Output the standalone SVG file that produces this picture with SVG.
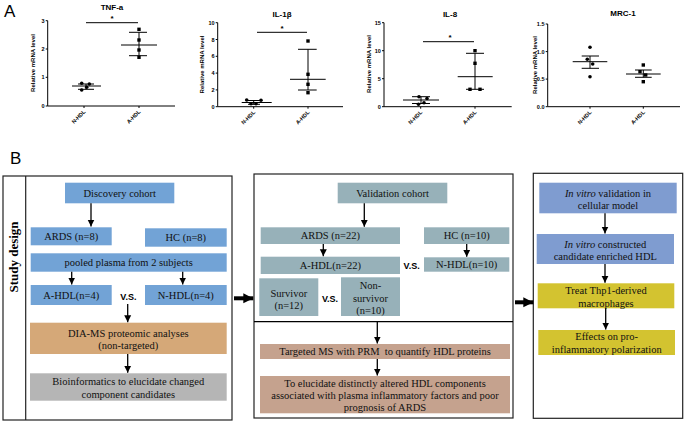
<svg xmlns="http://www.w3.org/2000/svg" width="685" height="424" viewBox="0 0 685 424">
<style>
.ax{fill:none;stroke:#000;stroke-width:1}
.eb{fill:none;stroke:#000;stroke-width:1}
.tt{font-weight:bold;font-size:8px;text-anchor:middle}
.tk{font-weight:bold;font-size:5.5px;text-anchor:end}
.yl{font-weight:bold;font-size:6px;text-anchor:middle}
.xl{font-weight:bold;font-size:5.5px;text-anchor:end}
.st{font-weight:bold;font-size:8px;text-anchor:middle}
.pl{font-size:17px}
.bt{font-size:10.5px;text-anchor:middle;fill:#111;white-space:pre}
.vs{font-weight:bold;font-size:9px;text-anchor:middle}
.frame{fill:#fff;stroke:#222;stroke-width:1.2}
.c1{fill:#72a3d6}.c2{fill:#97b1b9}.c3{fill:#d5a878}.c4{fill:#b5b5b5}.c5{fill:#c5a28e}.c6{fill:#7f9cd0}.c7{fill:#d3c330}
.arr{stroke:#000;stroke-width:1.3;fill:none}
.big{stroke:#000;stroke-width:4;fill:none}
</style>
<defs>
<marker id="ah" viewBox="0 0 10 10" refX="10" refY="5" markerWidth="7" markerHeight="8" markerUnits="userSpaceOnUse" orient="auto"><path d="M0,0 L10,5 L0,10 z" fill="#000"/></marker>
<marker id="bh" viewBox="0 0 10 10" refX="10" refY="5" markerWidth="10" markerHeight="12" markerUnits="userSpaceOnUse" orient="auto"><path d="M0,0 L10,5 L0,10 z" fill="#000"/></marker>
</defs>
<rect width="685" height="424" fill="#fff"/>
<g font-family="Liberation Sans, Arial, sans-serif">
<text class="pl" x="4" y="17">A</text>
<text class="pl" x="10" y="164">B</text>

<!-- Chart 1 TNF-a -->
<g id="chart-tnfa">
<text class="tt" x="112" y="10">TNF-a</text>
<path class="ax" d="M47.7,20.7 V106 H175 M45.7,20.7 H47.7 M45.7,49 H47.7 M45.7,77.3 H47.7 M45.7,106 H47.7 M84,106 V108 M139,106 V108"/>
<text class="tk" x="44.5" y="22.7">3</text><text class="tk" x="44.5" y="51">2</text><text class="tk" x="44.5" y="79.3">1</text><text class="tk" x="44.5" y="108">0</text>
<text class="yl" transform="translate(35,63) rotate(-90)">Relative mRNA level</text>
<text class="xl" transform="translate(86,112) rotate(-45)">N-HDL</text>
<text class="xl" transform="translate(141,112) rotate(-45)">A-HDL</text>
<path class="eb" d="M86,22.7 H138"/><text class="st" x="112" y="21">*</text>
<path class="eb" d="M72,86 H101 M78,84 H94 M78,89.3 H94 M86,84 V89.3"/>
<circle cx="81.7" cy="83.3" r="1.8"/><circle cx="89.3" cy="84" r="1.8"/><circle cx="86.7" cy="87.3" r="1.8"/><circle cx="81.7" cy="90" r="1.8"/>
<path class="eb" d="M121,45 H157 M129,32.3 H147 M129,55.7 H147 M139,32.3 V55.7"/>
<rect x="137.3" y="27.6" width="3.4" height="3.4"/><rect x="137.3" y="38.3" width="3.4" height="3.4"/><rect x="137.3" y="48.3" width="3.4" height="3.4"/><rect x="137.3" y="55.6" width="3.4" height="3.4"/>
</g>

<!-- Chart 2 IL-1b -->
<g id="chart-il1b">
<text class="tt" x="282" y="17">IL-1β</text>
<path class="ax" d="M217.7,22.7 V106.7 H343 M215.7,22.7 H217.7 M215.7,39.5 H217.7 M215.7,56.3 H217.7 M215.7,73.1 H217.7 M215.7,89.9 H217.7 M215.7,106.7 H217.7 M253.7,106.7 V108.7 M308,106.7 V108.7"/>
<text class="tk" x="214.5" y="24.7">10</text><text class="tk" x="214.5" y="41.5">8</text><text class="tk" x="214.5" y="58.3">6</text><text class="tk" x="214.5" y="75.1">4</text><text class="tk" x="214.5" y="91.9">2</text><text class="tk" x="214.5" y="108.7">0</text>
<text class="yl" transform="translate(203.7,64.5) rotate(-90)">Relative mRNA level</text>
<text class="xl" transform="translate(255.7,112.7) rotate(-45)">N-HDL</text>
<text class="xl" transform="translate(310,112.7) rotate(-45)">A-HDL</text>
<path class="eb" d="M257,32.3 H307"/><text class="st" x="282" y="30.5">*</text>
<path class="eb" d="M241.7,102.5 H271.7 M248,100.5 H260 M248,104.3 H260 M253.7,100.5 V104.3"/>
<circle cx="246.7" cy="100" r="1.8"/><circle cx="251" cy="103.7" r="1.8"/><circle cx="256" cy="103.7" r="1.8"/><circle cx="261" cy="100.3" r="1.8"/>
<path class="eb" d="M290,79.3 H325.7 M298,49.3 H316.7 M298,90 H316.7 M308,49.3 V90"/>
<rect x="306.3" y="39.3" width="3.4" height="3.4"/><rect x="306.3" y="72.6" width="3.4" height="3.4"/><rect x="306.3" y="82.6" width="3.4" height="3.4"/><rect x="306.3" y="91" width="3.4" height="3.4"/>
</g>

<!-- Chart 3 IL-8 -->
<g id="chart-il8">
<text class="tt" x="450" y="17">IL-8</text>
<path class="ax" d="M384,22.7 V106.7 H511.7 M382,22.7 H384 M382,50.7 H384 M382,78.7 H384 M382,106.7 H384 M420.7,106.7 V108.7 M475,106.7 V108.7"/>
<text class="tk" x="380.8" y="24.7">15</text><text class="tk" x="380.8" y="52.7">10</text><text class="tk" x="380.8" y="80.7">5</text><text class="tk" x="380.8" y="108.7">0</text>
<text class="yl" transform="translate(371.3,64) rotate(-90)">Relative mRNA level</text>
<text class="xl" transform="translate(422.7,112.7) rotate(-45)">N-HDL</text>
<text class="xl" transform="translate(477,112.7) rotate(-45)">A-HDL</text>
<path class="eb" d="M423,41.7 H474"/><text class="st" x="450" y="40">*</text>
<path class="eb" d="M403,100 H439 M412,96.7 H430 M412,103.5 H430 M421,96.7 V103.5"/>
<circle cx="419" cy="96.7" r="1.8"/><circle cx="427" cy="98.5" r="1.8"/><circle cx="418.5" cy="104.3" r="1.8"/><circle cx="424" cy="102.7" r="1.8"/>
<path class="eb" d="M457.7,76.7 H492.7 M466,53.3 H484 M466,89.3 H484 M475,53.3 V89.3"/>
<rect x="473.3" y="49" width="3.4" height="3.4"/><rect x="473.3" y="61.6" width="3.4" height="3.4"/><rect x="468.3" y="87.6" width="3.4" height="3.4"/><rect x="478.3" y="87.6" width="3.4" height="3.4"/>
</g>

<!-- Chart 4 MRC-1 -->
<g id="chart-mrc1">
<text class="tt" x="623" y="16">MRC-1</text>
<path class="ax" d="M547.7,24 V106.7 H680 M545.7,24 H547.7 M545.7,51.6 H547.7 M545.7,79.1 H547.7 M545.7,106.7 H547.7 M590,106.7 V108.7 M643.3,106.7 V108.7"/>
<text class="tk" x="544.5" y="26">1.5</text><text class="tk" x="544.5" y="53.6">1.0</text><text class="tk" x="544.5" y="81.1">0.5</text><text class="tk" x="544.5" y="108.7">0.0</text>
<text class="yl" transform="translate(537,65) rotate(-90)">Relative mRNA level</text>
<text class="xl" transform="translate(592,112.7) rotate(-45)">N-HDL</text>
<text class="xl" transform="translate(645.3,112.7) rotate(-45)">A-HDL</text>
<path class="eb" d="M572.7,61.7 H607.3 M581.7,56 H599 M581.7,68.3 H599 M590,56 V68.3"/>
<circle cx="590" cy="47.3" r="1.8"/><circle cx="587.3" cy="59.3" r="1.8"/><circle cx="592.7" cy="64" r="1.8"/><circle cx="590" cy="76.7" r="1.8"/>
<path class="eb" d="M626,74 H660.7 M635,70 H651.7 M635,77.3 H651.7 M643.3,70 V77.3"/>
<rect x="641.6" y="63.3" width="3.4" height="3.4"/><rect x="638.3" y="70" width="3.4" height="3.4"/><rect x="644" y="73.3" width="3.4" height="3.4"/><rect x="641.6" y="80" width="3.4" height="3.4"/>
</g>
</g>

<!-- Panel B frames -->
<g id="frame-discovery">
<rect class="frame" x="3" y="176" width="229" height="244"/>
<line x1="25.7" y1="176" x2="25.7" y2="420" stroke="#222" stroke-width="1.2"/>
<text transform="translate(18,257) rotate(-90)" font-family="Liberation Serif, Times New Roman, serif" font-weight="bold" font-size="13" text-anchor="middle">Study design</text>
</g>
<g id="frame-validation"><rect class="frame" x="254" y="174" width="259" height="244"/>
<line x1="254" y1="321.7" x2="513" y2="321.7" stroke="#000" stroke-width="1.3"/></g>
<g id="frame-invitro"><rect class="frame" x="533.3" y="173.3" width="149.4" height="245"/></g>

<g font-family="Liberation Serif, Times New Roman, serif">
<!-- Discovery nodes -->
<g id="n-discovery"><rect class="c1" x="65" y="182.7" width="109.3" height="20.6"/><text class="bt" x="119.7" y="196.6">Discovery cohort</text></g>
<g id="n-ards8"><rect class="c1" x="30.7" y="227.3" width="81" height="18"/><text class="bt" x="71.2" y="240">ARDS (n=8)</text></g>
<g id="n-hc8"><rect class="c1" x="145" y="228.3" width="81.7" height="18.4"/><text class="bt" x="185.8" y="241.2">HC (n=8)</text></g>
<g id="n-pooled"><rect class="c1" x="30.7" y="253.3" width="196" height="18.4"/><text class="bt" x="128.7" y="266.2">pooled plasma from 2 subjects</text></g>
<g id="n-ahdl4"><rect class="c1" x="30.7" y="285" width="81" height="20"/><text class="bt" x="71.2" y="298.7">A-HDL(n=4)</text></g>
<g id="n-nhdl4"><rect class="c1" x="145" y="285" width="81.7" height="20"/><text class="bt" x="185.8" y="298.7">N-HDL(n=4)</text></g>
<g id="n-dia"><rect class="c3" x="30" y="322.7" width="196.7" height="31.3"/><text class="bt" x="128.3" y="336.5">DIA-MS proteomic analyses</text><text class="bt" x="128.3" y="349">(non-targeted)</text></g>
<g id="n-bio"><rect class="c4" x="30" y="373.3" width="196.7" height="27.4"/><text class="bt" x="128.3" y="384.5">Bioinformatics to elucidate changed</text><text class="bt" x="128.3" y="398">component candidates</text></g>

<!-- Validation nodes -->
<g id="n-validation"><rect class="c2" x="337.7" y="182.7" width="109.6" height="20.6"/><text class="bt" x="392.5" y="196.6">Validation cohort</text></g>
<g id="n-ards22"><rect class="c2" x="260.7" y="227.3" width="139.3" height="16.7"/><text class="bt" x="330.3" y="239.4">ARDS (n=22)</text></g>
<g id="n-hc10"><rect class="c2" x="424" y="227.3" width="85.3" height="16.7"/><text class="bt" x="466.7" y="239.4">HC (n=10)</text></g>
<g id="n-ahdl22"><rect class="c2" x="260.7" y="256.7" width="139.3" height="17.3"/><text class="bt" x="330.3" y="269">A-HDL(n=22)</text></g>
<g id="n-nhdl10"><rect class="c2" x="424" y="257.3" width="85.3" height="14.4"/><text class="bt" x="466.7" y="268.2">N-HDL(n=10)</text></g>
<g id="n-survivor"><rect class="c2" x="259.3" y="278.3" width="59" height="37.7"/><text class="bt" x="288.8" y="296.5">Survivor</text><text class="bt" x="288.8" y="308.5">(n=12)</text></g>
<g id="n-nonsurvivor"><rect class="c2" x="341" y="277.3" width="59" height="38.7"/><text class="bt" x="370.5" y="289">Non-</text><text class="bt" x="370.5" y="301.5">survivor</text><text class="bt" x="370.5" y="314">(n=10)</text></g>
<g id="n-targeted"><rect class="c5" x="260" y="344" width="250" height="15"/><text class="bt" x="385" y="355" xml:space="preserve">Targeted MS with PRM  to quantify HDL proteins</text></g>
<g id="n-elucidate"><rect class="c5" x="260" y="376" width="250" height="37.3"/><text class="bt" x="385" y="386.8">To elucidate distinctly altered HDL components</text><text class="bt" x="385" y="399.3">associated with plasma inflammatory factors and poor</text><text class="bt" x="385" y="411">prognosis of ARDS</text></g>

<!-- In vitro nodes -->
<g id="n-invitro1"><rect class="c6" x="539.3" y="182.7" width="137.4" height="30.6"/><text class="bt" x="608" y="196.8"><tspan font-style="italic">In vitro</tspan> validation in</text><text class="bt" x="608" y="208.5">cellular model</text></g>
<g id="n-invitro2"><rect class="c6" x="536.7" y="234" width="137.3" height="30"/><text class="bt" x="605.3" y="247.5"><tspan font-style="italic">In vitro</tspan> constructed</text><text class="bt" x="605.3" y="259.5">candidate enriched HDL</text></g>
<g id="n-treat"><rect class="c7" x="537.7" y="283.3" width="136.6" height="25"/><text class="bt" x="606" y="294.2">Treat Thp1-derived</text><text class="bt" x="606" y="306.5">macrophages</text></g>
<g id="n-effects"><rect class="c7" x="538.3" y="330" width="136.7" height="25"/><text class="bt" x="606.7" y="340.2">Effects on pro-</text><text class="bt" x="606.7" y="353.2">inflammatory polarization</text></g>
</g>

<g font-family="Liberation Sans, Arial, sans-serif">
<text class="vs" x="128.3" y="300">V.S.</text>
<text class="vs" x="411.7" y="269.3">V.S.</text>
<text class="vs" x="330" y="301.5">V.S.</text>
</g>

<!-- Connectors -->
<g id="connectors">
<line class="arr" x1="91" y1="203.3" x2="91" y2="226.5" marker-end="url(#ah)"/>
<line class="arr" x1="71.7" y1="271.7" x2="71.7" y2="284.5" marker-end="url(#ah)"/>
<line class="arr" x1="182.7" y1="271.7" x2="182.7" y2="284.5" marker-end="url(#ah)"/>
<line class="arr" x1="127.7" y1="304" x2="127.7" y2="322.2" marker-end="url(#ah)"/>
<line class="arr" x1="127.7" y1="354" x2="127.7" y2="372.8" marker-end="url(#ah)"/>
<line class="arr" x1="364.3" y1="203.3" x2="364.3" y2="226.8" marker-end="url(#ah)"/>
<line class="arr" x1="323.3" y1="244" x2="323.3" y2="256.2" marker-end="url(#ah)"/>
<line class="arr" x1="466.7" y1="244" x2="466.7" y2="256.8" marker-end="url(#ah)"/>
<line class="arr" x1="377.3" y1="322" x2="377.3" y2="343.5" marker-end="url(#ah)"/>
<line class="arr" x1="377.3" y1="359" x2="377.3" y2="375.5" marker-end="url(#ah)"/>
<line class="arr" x1="605" y1="213.3" x2="605" y2="233.5" marker-end="url(#ah)"/>
<line class="arr" x1="605" y1="264" x2="605" y2="282.8" marker-end="url(#ah)"/>
<line class="arr" x1="605.7" y1="308.3" x2="605.7" y2="329.5" marker-end="url(#ah)"/>
<line class="big" x1="234" y1="298.3" x2="253.3" y2="298.3" marker-end="url(#bh)"/>
<line class="big" x1="515" y1="302.3" x2="533.3" y2="302.3" marker-end="url(#bh)"/>
</g>
</svg>
